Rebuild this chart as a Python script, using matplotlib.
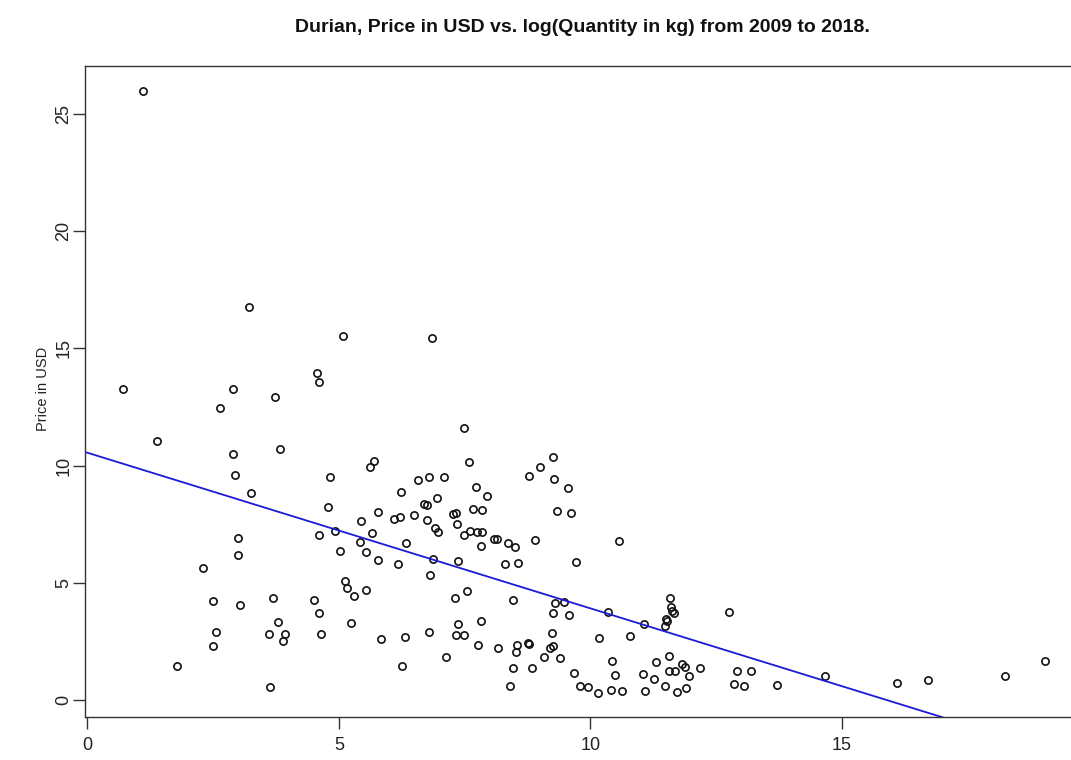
import matplotlib
matplotlib.use("Agg")
import matplotlib.pyplot as plt

plt.rcParams["font.family"] = ["Liberation Sans", "DejaVu Sans"]

# log(quantity in kg) and price in USD
log_qty = [
    1.10, 3.22, 5.08, 6.86, 0.70, 2.89, 2.64, 3.74, 4.56, 4.60,
    1.39, 2.89, 3.83, 2.94, 3.26, 5.69, 5.61, 4.83, 4.79, 5.44,
    5.77, 4.93, 5.65, 4.60, 5.42, 5.03, 5.53, 5.77, 3.00, 3.00,
    2.30, 5.12, 5.16, 5.53, 5.30, 2.49, 3.04, 3.69, 4.51, 4.60,
    3.80, 3.61, 3.92, 3.88, 4.64, 2.56, 2.49, 1.79, 3.64, 5.25,
    5.84, 6.24, 6.57, 6.80, 6.70, 6.75, 6.75, 6.50, 6.09, 6.22,
    6.17, 6.34, 6.32, 6.26, 6.80, 6.82, 7.48, 7.59, 7.10, 7.73,
    7.95, 8.78, 8.99, 9.25, 9.28, 9.56, 9.34, 9.62, 10.56, 6.96,
    6.92, 6.97, 6.87, 7.36, 7.66, 7.85, 7.26, 7.32, 7.34, 7.60,
    7.48, 7.75, 7.85, 7.83, 8.08, 8.15, 8.36, 8.51, 8.89, 8.30,
    8.56, 9.72, 7.30, 7.55, 8.46, 9.30, 9.47, 9.25, 9.58, 10.36,
    11.07, 7.36, 7.82, 7.33, 7.48, 7.77, 8.16, 8.55, 8.53, 8.76,
    8.78, 9.24, 9.19, 9.25, 9.07, 9.39, 10.17, 10.79, 7.14, 8.46,
    8.84, 8.41, 9.68, 9.80, 9.95, 10.15, 10.41, 10.62, 10.43, 10.50,
    11.05, 11.27, 11.31, 11.09, 11.49, 11.58, 11.60, 11.62, 11.66, 11.51,
    11.53, 11.48, 12.75, 14.67, 11.57, 11.57, 11.68, 11.83, 11.88, 11.96,
    12.19, 11.73, 11.91, 12.92, 13.19, 12.86, 13.06, 13.71, 16.09, 16.71,
    18.24, 19.04,
]
price = [
    26.00, 16.75, 15.52, 15.46, 13.27, 13.27, 12.44, 12.94, 13.95, 13.55,
    11.04, 10.51, 10.72, 9.61, 8.83, 10.20, 9.94, 9.50, 8.25, 7.65,
    8.01, 7.21, 7.12, 7.03, 6.75, 6.36, 6.30, 5.97, 6.91, 6.17,
    5.62, 5.09, 4.78, 4.68, 4.44, 4.21, 4.07, 4.35, 4.27, 3.71,
    3.33, 2.82, 2.82, 2.50, 2.80, 2.91, 2.30, 1.46, 0.57, 3.27,
    2.62, 8.89, 9.40, 9.50, 8.36, 8.32, 7.68, 7.88, 7.74, 7.79,
    5.82, 6.68, 2.70, 1.45, 2.91, 5.32, 11.59, 10.14, 9.50, 9.07,
    8.72, 9.57, 9.95, 10.37, 9.43, 9.06, 8.08, 7.96, 6.78, 8.60,
    7.32, 7.18, 6.00, 5.92, 8.14, 8.11, 7.95, 7.99, 7.52, 7.21,
    7.05, 7.15, 7.15, 6.56, 6.87, 6.87, 6.71, 6.51, 6.81, 5.80,
    5.86, 5.90, 4.35, 4.66, 4.27, 4.14, 4.17, 3.71, 3.63, 3.75,
    3.24, 3.24, 3.37, 2.77, 2.77, 2.35, 2.22, 2.35, 2.04, 2.43,
    2.39, 2.86, 2.22, 2.30, 1.82, 1.79, 2.65, 2.72, 1.82, 1.35,
    1.35, 0.60, 1.14, 0.61, 0.54, 0.29, 0.41, 0.37, 1.68, 1.08,
    1.11, 0.88, 1.63, 0.40, 0.60, 4.34, 3.98, 3.81, 3.72, 3.44,
    3.38, 3.16, 3.75, 1.02, 1.86, 1.25, 1.24, 1.54, 1.42, 1.02,
    1.35, 0.34, 0.50, 1.22, 1.22, 0.67, 0.60, 0.64, 0.74, 0.84,
    1.01, 1.66,
]

# fitted regression line (abline)
fit_intercept = 10.55
fit_slope = -0.664

x_ticks = [0, 5, 10, 15]
y_ticks = [0, 5, 10, 15, 20, 25]

fig = plt.figure(figsize=(10.71, 7.6), dpi=100)
ax = fig.add_axes([0.0794, 0.0562, 0.9337, 0.857])

ax.plot(log_qty, price, linestyle="none", marker="o", markersize=5.2,
        markerfacecolor="none", markeredgecolor="#111111", markeredgewidth=1.2)
ax.axline((0, fit_intercept), slope=fit_slope, color="#1a1ad8", linewidth=1.3)

ax.set_xlim(-0.046, 19.835)
ax.set_ylim(-0.738, 27.05)
ax.set_xticks(x_ticks)
ax.set_yticks(y_ticks)
ax.tick_params(direction="out", length=8.5, width=1.0, color="#333333",
               labelsize=13, labelcolor="#222222", pad=6)
ax.tick_params(axis="y", pad=0.5)
for lab in ax.get_yticklabels():
    lab.set_rotation(90)
    lab.set_va("center")
for sp in ax.spines.values():
    sp.set_color("#333333")
    sp.set_linewidth(1.0)

fig.text(43 / 1071, 1 - 389 / 760, "Price in USD", rotation=90,
         ha="center", va="center", fontsize=10.5, color="#222222")
fig.text(582 / 1071, 1 - 28 / 760,
         "Durian, Price in USD vs. log(Quantity in kg) from 2009 to 2018.",
         ha="center", va="center", fontsize=14, fontweight="bold",
         color="#111111")

fig.savefig("out.png", dpi=100)
